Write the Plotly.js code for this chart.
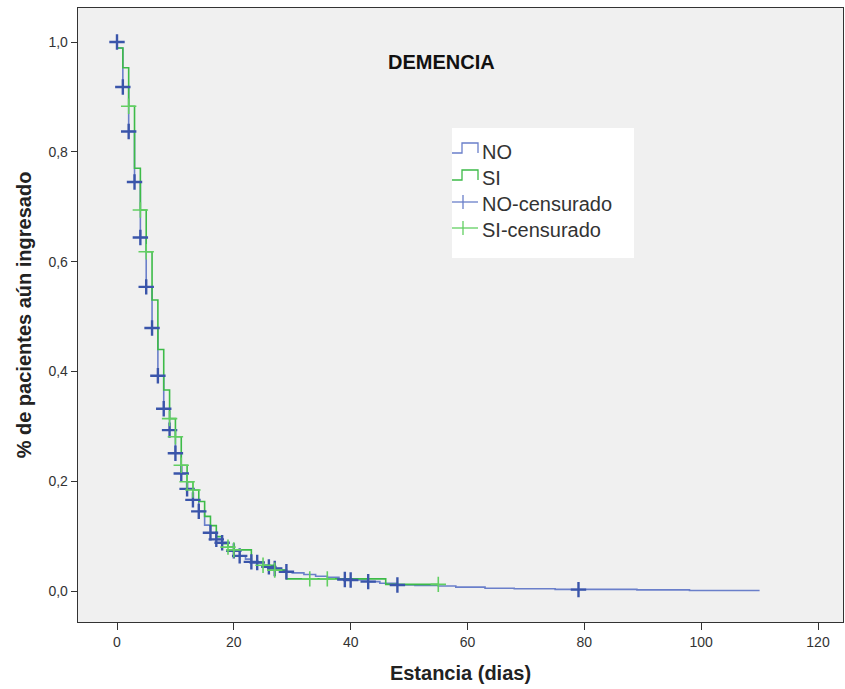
<!DOCTYPE html>
<html>
<head>
<meta charset="utf-8">
<script src="https://cdn.plot.ly/plotly-3.0.1.min.js"></script>
<style>html,body{margin:0;padding:0;background:#fff;}#chart{width:845px;height:689px;}</style>
</head>
<body>
<div id="chart"></div>
<script>
// ---- Data ----
// NO group: step curve (day, survival after that day)
const noDays   = [0, 0, 1, 2, 3, 4, 5, 6, 7, 8, 9, 10, 11, 12, 13, 14, 15, 16, 17, 18, 19, 20, 21, 22, 23, 24, 25, 26, 27, 28, 29, 30, 32, 34, 36, 38, 39, 40, 43, 45, 48, 51, 55, 58, 63, 68, 75, 89, 98, 110];
const noSurv   = [1.0, 0.989, 0.918, 0.837, 0.745, 0.644, 0.554, 0.479, 0.392, 0.332, 0.293, 0.251, 0.214, 0.186, 0.166, 0.145, 0.120, 0.106, 0.094, 0.088, 0.080, 0.073, 0.064, 0.058, 0.053, 0.052, 0.047, 0.044, 0.041, 0.038, 0.035, 0.033, 0.030, 0.027, 0.025, 0.022, 0.021, 0.020, 0.017, 0.014, 0.011, 0.010, 0.009, 0.007, 0.005, 0.004, 0.003, 0.002, 0.001, 0.001];
// NO group: censored observations
const noCensDays = [0, 1, 2, 3, 4, 5, 6, 7, 8, 9, 10, 11, 12, 13, 14, 16, 17, 18, 20, 21, 23, 24, 26, 27, 29, 39, 40, 43, 48, 79];
const noCensSurv = [1.0, 0.918, 0.837, 0.745, 0.644, 0.554, 0.479, 0.392, 0.332, 0.293, 0.251, 0.214, 0.186, 0.166, 0.145, 0.106, 0.094, 0.088, 0.073, 0.064, 0.053, 0.052, 0.044, 0.041, 0.035, 0.021, 0.020, 0.017, 0.011, 0.0025];

// SI group: step curve
const siDays   = [0, 0, 1, 2, 3, 4, 5, 6, 7, 8, 9, 10, 11, 12, 13, 14, 15, 16, 17, 18, 19, 20, 23, 25, 27, 29, 46, 55];
const siSurv   = [1.0, 0.989, 0.953, 0.883, 0.770, 0.694, 0.618, 0.530, 0.440, 0.366, 0.314, 0.281, 0.229, 0.199, 0.184, 0.163, 0.136, 0.119, 0.099, 0.086, 0.080, 0.075, 0.053, 0.047, 0.038, 0.022, 0.012, 0.012];
// SI group: censored observations
const siCensDays = [2, 4, 5, 9, 10, 11, 12, 13, 19, 20, 25, 27, 33, 36, 55];
const siCensSurv = [0.883, 0.694, 0.618, 0.314, 0.281, 0.229, 0.199, 0.184, 0.080, 0.075, 0.047, 0.038, 0.022, 0.022, 0.012];

const xTicks = [0, 20, 40, 60, 80, 100, 120];
const yTicks = [0.0, 0.2, 0.4, 0.6, 0.8, 1.0];
const yTickText = ["0,0", "0,2", "0,4", "0,6", "0,8", "1,0"];
const legendLabels = ["NO", "SI", "NO-censurado", "SI-censurado"];

// ---- Styling ----
const blueLine = "#6a7fca";
const blueMark = "#3a55aa";
const greenLine = "#3dbb48";
const greenMark = "#62cf62";
const FONT = "Liberation Sans, Arial, sans-serif";

const W = 845, H = 689;
const M = {l: 78, r: 2, t: 8, b: 67};
const PW = W - M.l - M.r, PH = H - M.t - M.b;
const px = v => (v - M.l) / PW;
const py = v => 1 - (v - M.t) / PH;

const traces = [
  {x: noDays, y: noSurv, type: "scatter", mode: "lines", line: {shape: "hv", color: blueLine, width: 1.6}, showlegend: false, hoverinfo: "skip"},
  {x: siDays, y: siSurv, type: "scatter", mode: "lines", line: {shape: "hv", color: greenLine, width: 1.6}, showlegend: false, hoverinfo: "skip"},
  {x: noCensDays, y: noCensSurv, type: "scatter", mode: "markers", marker: {symbol: "cross-thin", size: 11, color: blueMark, line: {color: blueMark, width: 2.4}}, showlegend: false},
  {x: siCensDays, y: siCensSurv, type: "scatter", mode: "markers", marker: {symbol: "cross-thin", size: 11, color: greenMark, line: {color: greenMark, width: 1.6}}, showlegend: false}
];

// custom legend (step icons and cross icons)
const shapes = [
  {type: "rect", xref: "paper", yref: "paper", x0: px(452), x1: px(634), y0: py(128), y1: py(258), fillcolor: "#ffffff", line: {width: 0}, layer: "below"},
  {type: "path", xref: "paper", yref: "paper", path: `M ${px(452)} ${py(153)} L ${px(462)} ${py(153)} L ${px(462)} ${py(143)} L ${px(478)} ${py(143)} L ${px(478)} ${py(153)}`, line: {color: blueLine, width: 1.3}},
  {type: "path", xref: "paper", yref: "paper", path: `M ${px(452)} ${py(180)} L ${px(462)} ${py(180)} L ${px(462)} ${py(170)} L ${px(478)} ${py(170)} L ${px(478)} ${py(180)}`, line: {color: greenLine, width: 1.3}},
  {type: "line", xref: "paper", yref: "paper", x0: px(452), x1: px(478), y0: py(202), y1: py(202), line: {color: blueLine, width: 1.3}},
  {type: "line", xref: "paper", yref: "paper", x0: px(463), x1: px(463), y0: py(195), y1: py(209), line: {color: blueLine, width: 1.3}},
  {type: "line", xref: "paper", yref: "paper", x0: px(452), x1: px(478), y0: py(228), y1: py(228), line: {color: greenMark, width: 1.3}},
  {type: "line", xref: "paper", yref: "paper", x0: px(463), x1: px(463), y0: py(221), y1: py(235), line: {color: greenMark, width: 1.3}}
];

const legendY = [152, 178, 204, 230];
const annotations = legendLabels.map((t, i) => ({
  text: t, xref: "paper", yref: "paper", x: px(480), y: py(legendY[i]), xanchor: "left", yanchor: "middle",
  showarrow: false, font: {family: FONT, size: 20, color: "#333"}
}));
annotations.push({
  text: "<b>DEMENCIA</b>", xref: "paper", yref: "paper", x: px(441), y: py(62), xanchor: "center", yanchor: "middle",
  showarrow: false, font: {family: FONT, size: 20, color: "#111"}
});

const layout = {
  width: W, height: H,
  margin: M,
  paper_bgcolor: "#ffffff",
  plot_bgcolor: "#f0f0f0",
  showlegend: false,
  xaxis: {
    range: [-(117 - 78) / 5.8417, (843 - 117) / 5.8417],
    tickvals: xTicks, ticktext: xTicks.map(String),
    ticks: "outside", ticklen: 7, tickcolor: "#333", tickwidth: 1,
    showgrid: false, zeroline: false,
    showline: true, mirror: true, linecolor: "#333", linewidth: 1.3,
    tickfont: {family: FONT, size: 14, color: "#333"},
    title: {text: "<b>Estancia (dias)</b>", font: {family: FONT, size: 20, color: "#222"}, standoff: 17},
    automargin: false
  },
  yaxis: {
    range: [-31 / 549, 1 + 34 / 549],
    tickvals: yTicks, ticktext: yTickText,
    ticks: "outside", ticklen: 6, tickcolor: "#333", tickwidth: 1,
    showgrid: false, zeroline: false,
    showline: true, mirror: true, linecolor: "#333", linewidth: 1.3,
    tickfont: {family: FONT, size: 14, color: "#333"},
    title: {text: "<b>% de pacientes aún ingresado</b>", font: {family: FONT, size: 20, color: "#222"}, standoff: 11},
    automargin: false
  },
  shapes: shapes,
  annotations: annotations
};

Plotly.newPlot("chart", traces, layout, {staticPlot: true, displayModeBar: false});
</script>
</body>
</html>
